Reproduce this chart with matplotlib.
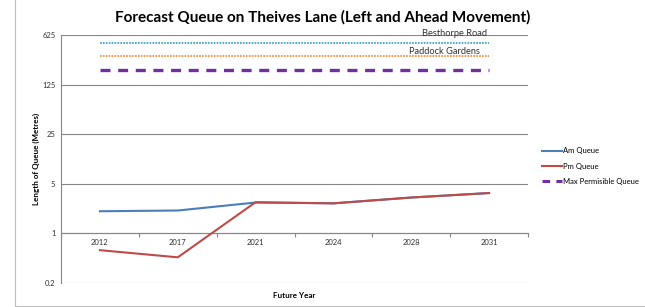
import numpy as np
import matplotlib
matplotlib.use('Agg')
from matplotlib import pyplot as plt
from matplotlib.lines import Line2D
from matplotlib.ticker import FixedLocator, NullFormatter

plt.rcParams['font.family'] = ['Lato', 'DejaVu Sans']
plt.rcParams['lines.scale_dashes'] = False

# data
years = ['2012', '2017', '2021', '2024', '2028', '2031']
am_queue = [2.05, 2.1, 2.72, 2.65, 3.2, 3.7]
pm_queue = [0.58, 0.46, 2.75, 2.65, 3.2, 3.7]
max_queue = [200] * 6
besthorpe = [480] * 6
paddock = [315] * 6
y_ticks = [0.2, 1, 5, 25, 125, 625]

fig = plt.figure(figsize=(6.45, 3.07), dpi=100)
ax = fig.add_axes([0.0946, 0.0782, 0.724, 0.808])

x = np.arange(len(years))

# horizontal reference lines
ax.plot(x, besthorpe, color='#4BACC6', lw=1.4, linestyle=(0, (1.2, 0.9)))
ax.plot(x, paddock, color='#F79646', lw=1.4, linestyle=(0, (1.2, 0.9)))
ax.plot(x, am_queue, color='#4A7EBB', lw=1.5, zorder=3)
ax.plot(x, pm_queue, color='#BE4B48', lw=1.5, zorder=4)
ax.plot(x, max_queue, color='#7030A0', lw=2.4, linestyle=(0, (7.2, 5.5)))

ax.text(4.55, besthorpe[0] * 1.37, 'Besthorpe Road', fontsize=6.7,
        ha='center', va='center', color='#303030')
ax.text(4.42, paddock[0] * 1.15, 'Paddock Gardens', fontsize=6.7,
        ha='center', va='center', color='#303030')

ax.set_yscale('log', base=5)
ax.set_ylim(0.2, 625)
ax.set_xlim(-0.5, 5.5)
ax.yaxis.set_major_locator(FixedLocator(y_ticks))
ax.yaxis.set_minor_locator(FixedLocator([]))
ax.set_yticklabels(['0.2', '1', '5', '25', '125', '625'])
ax.yaxis.set_minor_formatter(NullFormatter())
ax.tick_params(axis='y', length=0, labelsize=5.5, pad=4, labelcolor='#303030')

ax.set_xticks(x)
ax.set_xticklabels(years)
ax.xaxis.set_minor_locator(FixedLocator(np.arange(-0.5, 6, 1)))
ax.tick_params(axis='x', which='major', length=0, labelsize=5.5, pad=4,
               labelcolor='#303030')
ax.tick_params(axis='x', which='minor', length=3, width=0.8, color='#868686',
               direction='out')

ax.grid(axis='y', color='#868686', lw=0.8)
ax.set_axisbelow(True)
for s in ['top', 'right']:
    ax.spines[s].set_visible(False)
ax.spines['bottom'].set_position(('data', 1))
ax.spines['bottom'].set_color('#868686')
ax.spines['left'].set_color('#868686')
ax.spines['bottom'].set_linewidth(0.8)
ax.spines['left'].set_linewidth(0.8)

ax.set_xlabel('Future Year', fontsize=5.8, fontweight='bold', labelpad=3)
ax.xaxis.set_label_coords(0.5, -0.035)
ax.set_ylabel('Length of Queue (Metres)', fontsize=5.8, fontweight='bold')
ax.yaxis.set_label_coords(-0.045, 0.5)

fig.text(0.5, 0.945, 'Forecast Queue on Theives Lane (Left and Ahead Movement)',
         fontsize=11, fontweight='bold', ha='center', va='center')

handles = [
    Line2D([], [], color='#4A7EBB', lw=1.5),
    Line2D([], [], color='#BE4B48', lw=1.5),
    Line2D([], [], color='#7030A0', lw=2.2, linestyle=(0, (5.5, 4.5))),
]
labels = ['Am Queue', 'Pm Queue', 'Max Permisible Queue']
leg = fig.legend(handles, labels, loc='upper left',
                 bbox_to_anchor=(0.835, 0.53), frameon=False, fontsize=5.5,
                 handlelength=2.7, handletextpad=0.15, labelspacing=1.1,
                 borderaxespad=0)

# outer chart frame
fig.add_artist(Line2D([15 / 645, 15 / 645], [1 / 307, 1.0], color='#BFBFBF',
                      lw=0.8, transform=fig.transFigure))
fig.add_artist(Line2D([15 / 645, 1.0], [1 / 307, 1 / 307], color='#BFBFBF',
                      lw=0.8, transform=fig.transFigure))

fig.savefig('out.png', dpi=100)
